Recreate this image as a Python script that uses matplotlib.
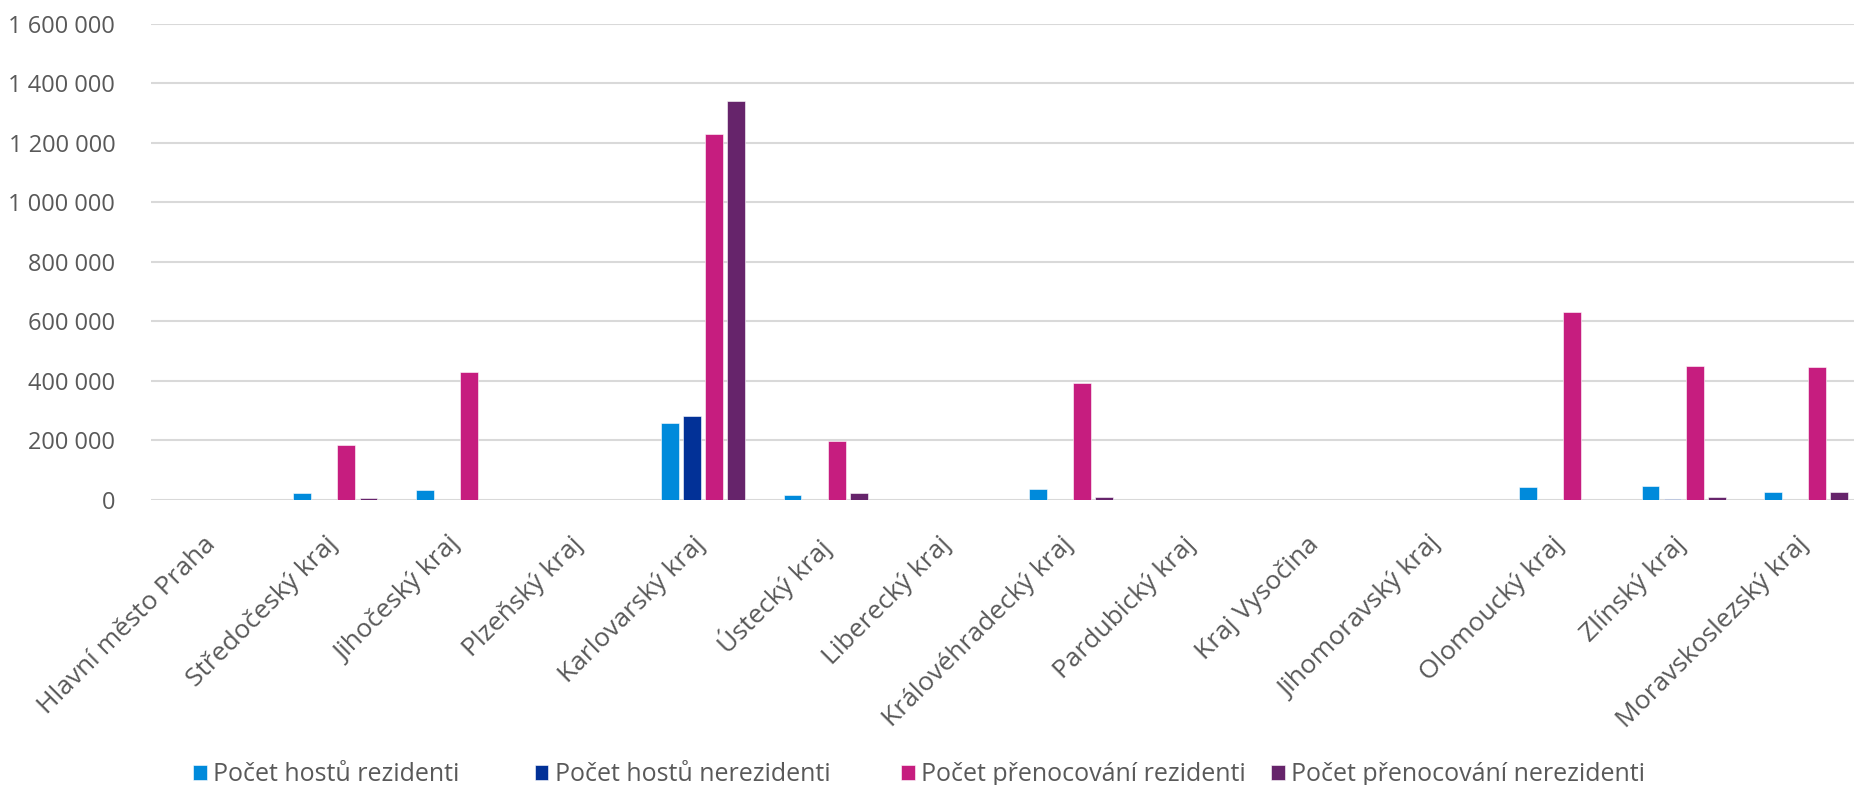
import numpy as np
import matplotlib
matplotlib.use("Agg")
import matplotlib.pyplot as plt
import matplotlib.transforms as mtransforms
from matplotlib.ticker import FuncFormatter

plt.rcParams['font.family'] = ['Open Sans', 'DejaVu Sans']

regions = [
    "Hlavní město Praha", "Středočeský kraj", "Jihočeský kraj", "Plzeňský kraj",
    "Karlovarský kraj", "Ústecký kraj", "Liberecký kraj", "Královéhradecký kraj",
    "Pardubický kraj", "Kraj Vysočina", "Jihomoravský kraj", "Olomoucký kraj",
    "Zlínský kraj", "Moravskoslezský kraj",
]

hoste_rez = [0, 22000, 33000, 0, 260000, 18000, 0, 38000, 0, 0, 0, 44000, 47000, 27000]
hoste_nerez = [0, 0, 0, 0, 281000, 0, 0, 0, 0, 0, 0, 0, 3000, 0]
prenoc_rez = [0, 186000, 430000, 0, 1228000, 199000, 0, 394000, 0, 0, 0, 631000, 451000, 448000]
prenoc_nerez = [0, 6000, 0, 0, 1341000, 24500, 0, 9000, 0, 0, 0, 0, 10000, 27000]

series = [
    ("Počet hostů rezidenti", hoste_rez, "#008ADB"),
    ("Počet hostů nerezidenti", hoste_nerez, "#023197"),
    ("Počet přenocování rezidenti", prenoc_rez, "#C61D7F"),
    ("Počet přenocování nerezidenti", prenoc_nerez, "#66246B"),
]

text_color = "#595959"

fig = plt.figure(figsize=(18.54, 7.85), dpi=100)
ax = fig.add_axes([0.0817, 0.363, 0.9183, 0.607])

x = np.arange(len(regions))
pitch = 0.18
width = 0.145
for i, (label, vals, color) in enumerate(series):
    ax.bar(x + (i - 1.5) * pitch, vals, width, color=color, label=label,
           edgecolor="white", linewidth=0.4, zorder=3)

ax.set_ylim(0, 1600000)
ax.set_xlim(-0.5, 13.39)
ax.set_yticks(np.arange(0, 1600001, 200000))
ax.yaxis.set_major_formatter(FuncFormatter(lambda v, p: f"{v:,.0f}".replace(",", " ")))
ax.grid(axis="y", color="#D9D9D9", linewidth=1.5, zorder=0)
for s in ax.spines.values():
    s.set_visible(False)

ax.tick_params(axis="y", length=0, pad=26, labelsize=17, labelcolor=text_color)
ax.tick_params(axis="x", length=0, pad=0, labelsize=19, labelcolor=text_color)
ax.set_xticks(x)
ax.set_xticklabels(regions, rotation=45, ha="right", va="top", rotation_mode="anchor")
# slanted labels hang down-left of each category centre
shift = mtransforms.ScaledTranslation(-0.10, -0.32, fig.dpi_scale_trans)
for lbl in ax.get_xticklabels():
    lbl.set_transform(lbl.get_transform() + shift)

# legend entries sit in fixed slots along the bottom
handles, labels = ax.get_legend_handles_labels()
slots = [0.1040, 0.2883, 0.4860, 0.6856]
for h, l, sx in zip(handles, labels, slots):
    fig.legend([h], [l], loc="center left", bbox_to_anchor=(sx, 0.013), frameon=False,
               fontsize=18, labelcolor=text_color, handlelength=0.55, handleheight=0.55,
               handletextpad=0.25, borderpad=0, borderaxespad=0)

fig.savefig("out.png", dpi=100, facecolor="white")
